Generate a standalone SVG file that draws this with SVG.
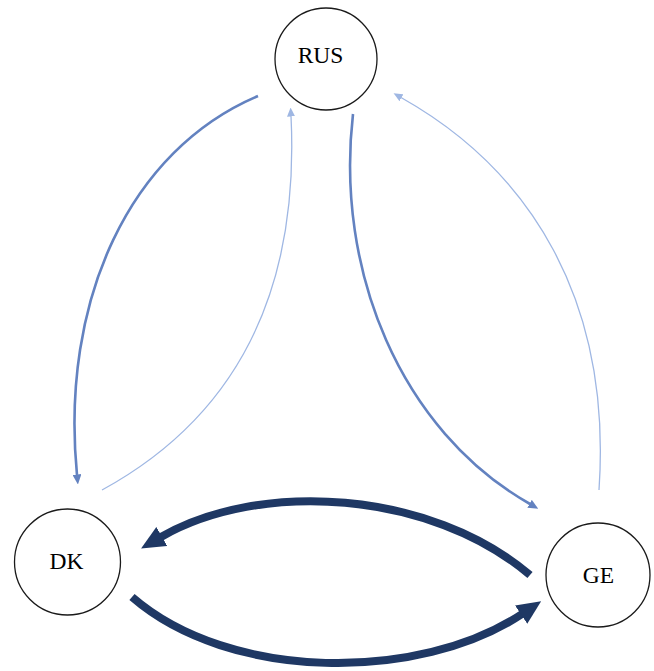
<svg xmlns="http://www.w3.org/2000/svg" width="654" height="671" viewBox="0 0 654 671">
<style>
.node circle{fill:#fff;stroke:#1a1a1a;stroke-width:1.3}
.node text{font-family:"Liberation Serif",serif;font-size:23.5px;fill:#000;text-anchor:middle}
.thick{fill:none;stroke:#1f3864;stroke-width:8}
.mid{fill:none;stroke:#6382c0;stroke-width:2.6}
.light{fill:none;stroke:#9fb7e3;stroke-width:1.3}
</style>
<defs>
<marker id="aThick" markerUnits="userSpaceOnUse" viewBox="0 -11 24 22" markerWidth="24" markerHeight="22" refX="1" refY="0" orient="auto"><path d="M0,-11 L24,0 L0,11 z" fill="#1f3864"/></marker>
<marker id="aMid" markerUnits="userSpaceOnUse" viewBox="0 -4.5 10 9" markerWidth="10" markerHeight="9" refX="0.5" refY="0" orient="auto"><path d="M0,-4.5 L10,0 L0,4.5 z" fill="#6382c0"/></marker>
<marker id="aLight" markerUnits="userSpaceOnUse" viewBox="0 -4 9 8" markerWidth="9" markerHeight="8" refX="0.5" refY="0" orient="auto"><path d="M0,-4 L9,0 L0,4 z" fill="#9fb7e3"/></marker>
</defs>
<g id="connectors">
<path class="mid" d="M258,96 C130,150 60,300 77,475" marker-end="url(#aMid)"/>
<path class="light" d="M102,490 C230,420 300,300 291,116" marker-end="url(#aLight)"/>
<path class="mid" d="M353,114 C335,270 400,430 530,504" marker-end="url(#aMid)"/>
<path class="light" d="M599,490 C612,300 530,170 401,97.5" marker-end="url(#aLight)"/>
<path class="thick" d="M530,575 C430,490 260,480 161,537" marker-end="url(#aThick)"/>
<path class="thick" d="M132,597 C230,682 420,682 522,614" marker-end="url(#aThick)"/>
</g>
<g id="RUS" class="node"><circle cx="326" cy="59" r="51"/><text x="320.5" y="63">RUS</text></g>
<g id="DK" class="node"><circle cx="67.5" cy="562" r="53"/><text x="66.5" y="569">DK</text></g>
<g id="GE" class="node"><circle cx="598" cy="575" r="52"/><text x="598.5" y="583">GE</text></g>
</svg>
